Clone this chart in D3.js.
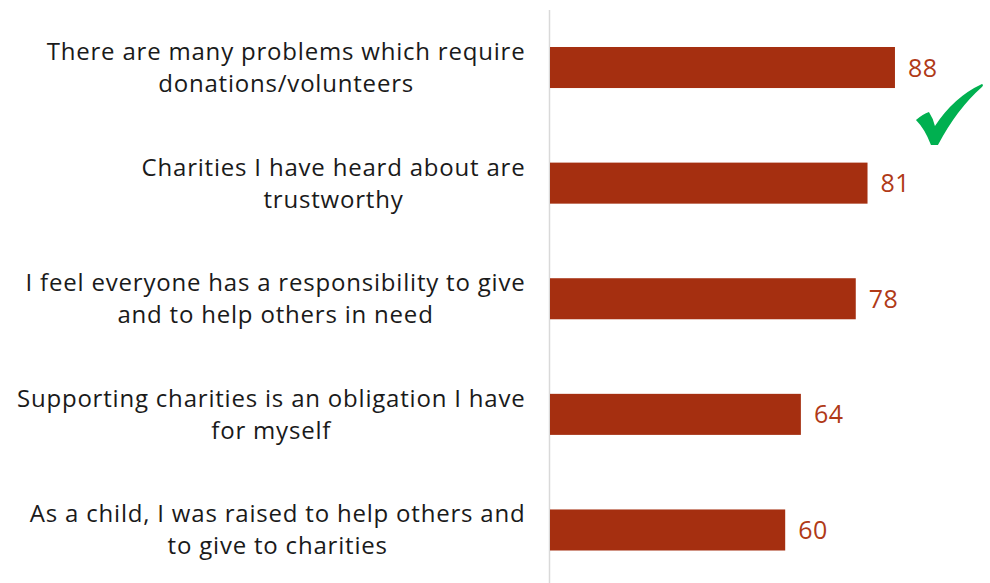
<!DOCTYPE html>
<html>
<head>
<meta charset="utf-8">
<script src="https://cdn.jsdelivr.net/npm/d3@7"></script>
<style>
  html, body { margin: 0; padding: 0; background: #fff; }
  svg { display: block; }
</style>
</head>
<body>
<svg id="chart" width="990" height="583"></svg>
<script>
// Survey statements (each split into its display lines) and agreement scores
const categories = [
  ["There are many problems which require", "donations/volunteers"],
  ["Charities I have heard about are", "trustworthy"],
  ["I feel everyone has a responsibility to give", "and to help others in need"],
  ["Supporting charities is an obligation I have", "for myself"],
  ["As a child, I was raised to help others and", "to give to charities"]
];
const values = [88, 81, 78, 64, 60];

const W = 990, H = 583;
const barColor = "#a52f10";
const labelColor = "#b03a17";
const font = "'Open Sans', sans-serif";
const labelRight = 525.5;

const svg = d3.select("#chart");

const x = d3.scaleLinear().domain([0, 100]).range([550, 942]);
const y = d3.scaleBand()
  .domain(d3.range(categories.length))
  .range([10, 587.5])
  .paddingInner(0.645)
  .paddingOuter(0.32);

// vertical baseline
svg.append("line")
  .attr("x1", 549.5).attr("x2", 549.5)
  .attr("y1", 10).attr("y2", H)
  .attr("stroke", "#d9d9d9").attr("stroke-width", 1.5);

// bars
svg.selectAll("rect.bar")
  .data(values)
  .join("rect")
  .attr("class", "bar")
  .attr("x", x(0))
  .attr("y", (d, i) => y(i))
  .attr("width", d => x(d) - x(0))
  .attr("height", y.bandwidth())
  .attr("fill", barColor);

// value labels
svg.selectAll("text.val")
  .data(values)
  .join("text")
  .attr("class", "val")
  .attr("x", d => x(d) + 13)
  .attr("y", (d, i) => y(i) + y.bandwidth() / 2)
  .attr("dy", "0.36em")
  .attr("font-family", font)
  .attr("font-size", 25)
  .attr("letter-spacing", "0.5px")
  .attr("fill", labelColor)
  .text(d => d);

// category labels: lines centred on each other, block flush against the axis
const cat = svg.selectAll("text.cat")
  .data(categories)
  .join("text")
  .attr("class", "cat")
  .attr("text-anchor", "middle")
  .attr("font-family", font)
  .attr("font-size", 24)
  .attr("letter-spacing", "0.8px")
  .attr("fill", "#1a1a1a");

cat.each(function(lines, i) {
  const cy = y(i) + y.bandwidth() / 2;
  const t = d3.select(this);
  const spans = lines.map((ln, k) => t.append("tspan")
    .attr("y", cy + (k - (lines.length - 1) / 2) * 32 + 8.5)
    .text(ln));
  const wMax = d3.max(spans, s => s.node().getComputedTextLength());
  spans.forEach(s => s.attr("x", labelRight - wMax / 2));
});

// green check mark beside the top statement
const cx0 = x(values[0]) + 21, cy0 = y(0) + y.bandwidth() - 4;
svg.append("path")
  .attr("transform", `translate(${cx0},${cy0})`)
  .attr("d", "M0,36 Q7,30 13,28 Q17,34 19,42 Q38,13 66,0 Q68,1 66,3 Q41,25 22,61 L15,61 Q9,45 0,36 Z")
  .attr("fill", "#00b050");
</script>
</body>
</html>
